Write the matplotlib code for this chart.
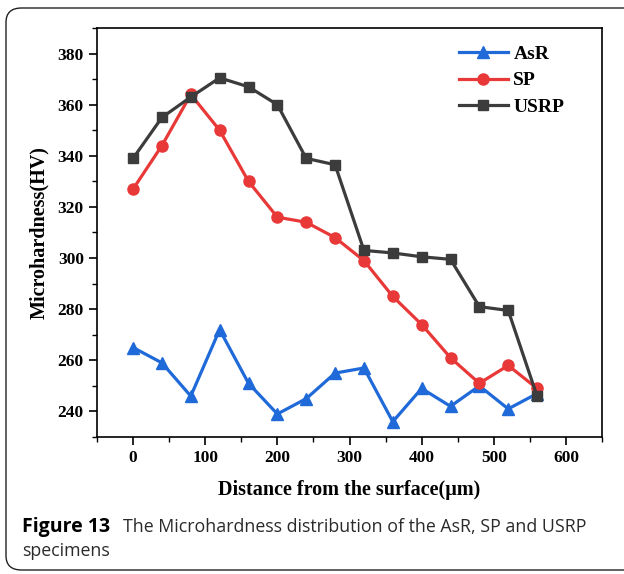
import numpy as np
import matplotlib.pyplot as plt
from matplotlib.patches import FancyBboxPatch
from matplotlib.ticker import MultipleLocator

## data
dist = [0, 40, 80, 120, 160, 200, 240, 280, 320, 360, 400, 440, 480, 520, 560]
asr = [265, 259, 246, 272, 251, 239, 245, 255, 257, 236, 249, 242, 250, 241, 247]
sp = [327, 344, 364, 350, 330, 316, 314, 308, 299, 285, 274, 261, 251, 258, 249]
usrp = [339, 355, 363, 370.5, 367, 360, 339, 336.5, 303, 302, 300.5, 299.5, 281, 279.5, 246]

serif = 'Liberation Serif'

fig = plt.figure(figsize=(6.24, 5.74), dpi=100)

## rounded frame round the figure + caption
box = FancyBboxPatch((6 / 624, 4 / 574), 640 / 624, 562 / 574,
                     boxstyle='round,pad=0,rounding_size=0.025',
                     transform=fig.transFigure, fill=False,
                     edgecolor='#222222', linewidth=1.0, clip_on=False)
fig.patches.append(box)

ax = fig.add_axes([97 / 624, 1 - 437 / 574, 505 / 624, 409 / 574])
ax.plot(dist, asr, color='#1f6ad8', marker='^', markersize=8.5, linewidth=2.3, label='AsR')
ax.plot(dist, sp, color='#e83838', marker='o', markersize=8, linewidth=2.3, label='SP')
ax.plot(dist, usrp, color='#3c3c3c', marker='s', markersize=7, linewidth=2.3, label='USRP')

ax.set_xlim(-50, 650)
ax.set_ylim(230, 390)
ax.xaxis.set_major_locator(MultipleLocator(100))
ax.xaxis.set_minor_locator(MultipleLocator(50))
ax.yaxis.set_major_locator(MultipleLocator(20))
ax.yaxis.set_minor_locator(MultipleLocator(10))
ax.set_yticks(np.arange(240, 381, 20))
ax.tick_params(which='major', direction='out', length=6, width=1.2)
ax.tick_params(which='minor', direction='out', length=3.5, width=1.0)
for s in ax.spines.values():
    s.set_linewidth(1.2)
for lab in ax.get_xticklabels() + ax.get_yticklabels():
    lab.set_fontfamily(serif)
    lab.set_fontweight('bold')
    lab.set_fontsize(12.5)

ax.set_xlabel('Distance from the surface(μm)', fontfamily=serif, fontweight='bold',
              fontsize=14.5, labelpad=10)
ax.set_ylabel('Microhardness(HV)', fontfamily=serif, fontweight='bold',
              fontsize=14.5, labelpad=6)

ax.legend(loc='upper right', frameon=False, handlelength=2.5, handletextpad=0.3,
          labelspacing=0.45, bbox_to_anchor=(0.96, 1.0),
          prop={'family': serif, 'weight': 'bold', 'size': 14})

## caption
fig.text(22 / 624, 1 - 527 / 574, 'Figure 13', fontfamily='Open Sans', fontweight='bold',
         fontsize=14, va='center', ha='left')
fig.text(123 / 624, 1 - 527 / 574, 'The Microhardness distribution of the AsR, SP and USRP',
         fontfamily='Open Sans', fontsize=12.8, va='center', ha='left', color='#2a2a2a')
fig.text(22 / 624, 1 - 551 / 574, 'specimens', fontfamily='Open Sans', fontsize=12.8,
         va='center', ha='left', color='#2a2a2a')

fig.savefig('out.png', dpi=100)
